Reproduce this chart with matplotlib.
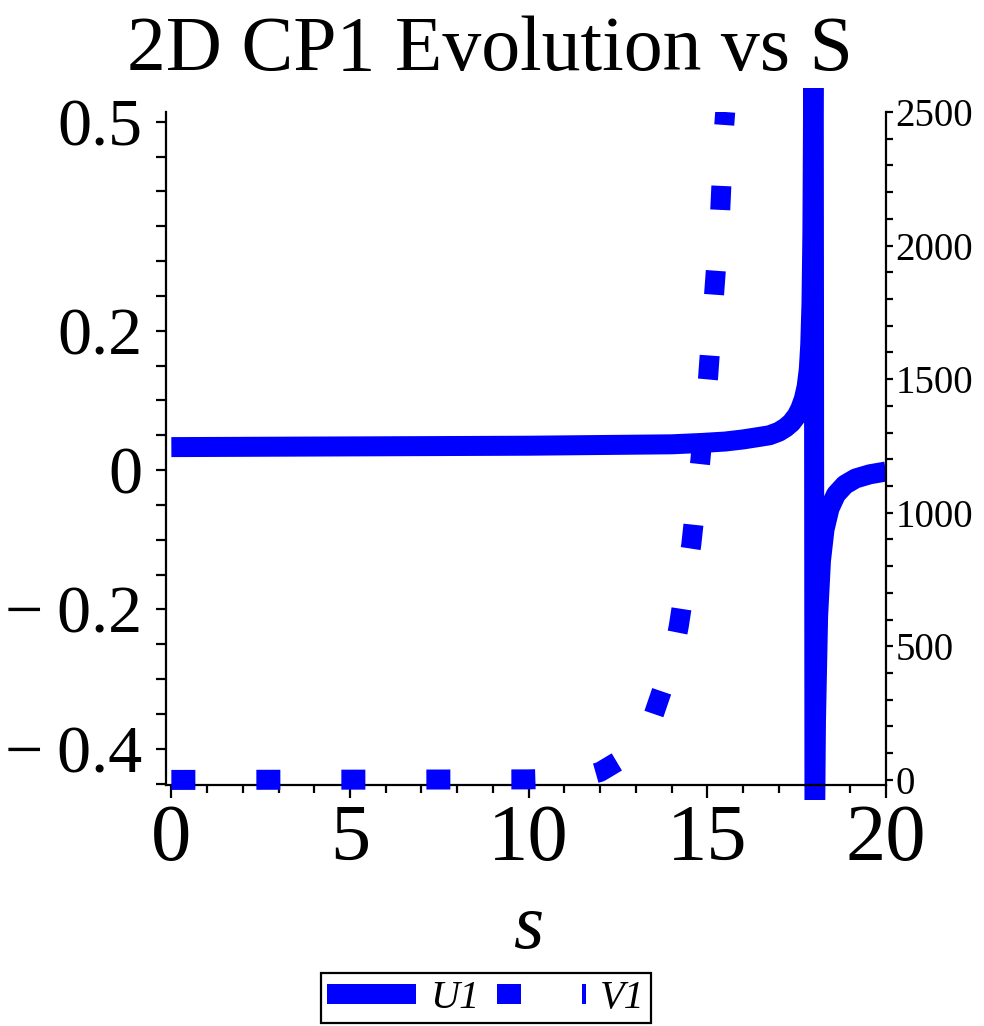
import matplotlib
matplotlib.use("agg")
import matplotlib.pyplot as plt
from matplotlib.patches import Rectangle
from matplotlib.ticker import FixedLocator, FixedFormatter

plt.rcParams["font.family"] = ["Liberation Serif", "DejaVu Serif"]

# U1 on the left axis
u1_s = [0, 5, 10, 12, 14, 14.86, 15.5, 16.0, 16.5, 16.74, 17.0, 17.19, 17.35, 17.5,
        17.6, 17.7, 17.78, 17.84, 17.88, 17.915, 17.94, 17.955, 17.975, 18.0, 18.04,
        18.1, 18.18, 18.28, 18.42, 18.6, 18.85, 19.15, 19.55, 20.0]
u1_v = [0.033, 0.034, 0.035, 0.036, 0.037, 0.039, 0.041, 0.044, 0.048, 0.050, 0.055,
        0.061, 0.068, 0.078, 0.088, 0.102, 0.12, 0.145, 0.18, 0.24, 0.34, 0.48, 0.75,
        -0.60, -0.36, -0.21, -0.13, -0.085, -0.055, -0.035, -0.021, -0.012, -0.006,
        -0.002]

# V1 on the right axis
v1_s = [0, 10, 11, 11.5, 12, 12.5, 13, 13.5, 14, 14.2, 14.55, 14.8, 15.02, 15.19,
        15.36, 15.47, 15.5]
v1_v = [0, 2, 6, 11, 30, 70, 140, 245, 440, 575, 880, 1190, 1505, 1820, 2130, 2445,
        2500]

left_ticks = [-0.4, -0.2, 0, 0.2, 0.5]
left_labels = ["\u2212\u20090.4", "\u2212\u20090.2", "0", "0.2", "0.5"]
right_ticks = [0, 500, 1000, 1500, 2000, 2500]
x_ticks = [0, 5, 10, 15, 20]

blue = "#0000ff"
W, H = 984, 1026

fig = plt.figure(figsize=(W / 100, H / 100), dpi=100)
ax = fig.add_axes([166 / W, 1 - 785 / H, 720 / W, 673 / H])
ax2 = ax.twinx()

ax.set_xlim(-0.15, 20)
ax.set_ylim(-0.452, 0.514)
ax2.set_ylim(-19, 2500)

clip_u = Rectangle((0, -0.022), 1, 1.058, transform=ax.transAxes, visible=False)
clip_v = Rectangle((0, -0.03), 1, 1.03, transform=ax2.transAxes, visible=False)
ax.add_patch(clip_u)
ax2.add_patch(clip_v)

lu, = ax.plot(u1_s, u1_v, color=blue, lw=14.4, solid_capstyle="butt",
              solid_joinstyle="round", label="U1")
lu.set_clip_path(clip_u)
lv, = ax2.plot(v1_s, v1_v, color=blue, lw=14.4, dashes=(1.2, 3.05),
               dash_capstyle="butt", label="V1")
lv.set_clip_path(clip_v)

for a in (ax, ax2):
    a.spines["top"].set_visible(False)
ax.spines["right"].set_visible(False)
ax2.spines["left"].set_visible(False)
ax2.spines["bottom"].set_visible(False)
for sp in ("left", "bottom"):
    ax.spines[sp].set_linewidth(1.6)
ax2.spines["right"].set_linewidth(1.6)

ax.yaxis.set_major_locator(FixedLocator(left_ticks))
ax.yaxis.set_major_formatter(FixedFormatter(left_labels))
ax.yaxis.set_minor_locator(FixedLocator([i * 0.05 for i in range(-9, 11)]))
ax.tick_params(axis="y", which="both", direction="out", length=7, width=1.6,
               labelsize=49, pad=10)

ax.xaxis.set_major_locator(FixedLocator(x_ticks))
ax.xaxis.set_minor_locator(FixedLocator(list(range(0, 21))))
ax.tick_params(axis="x", which="major", direction="out", length=9.5, width=1.6,
               labelsize=58, pad=4)
ax.tick_params(axis="x", which="minor", direction="out", length=6, width=1.6)

ax2.yaxis.set_major_locator(FixedLocator(right_ticks))
ax2.yaxis.set_minor_locator(FixedLocator(list(range(0, 2501, 100))))
ax2.tick_params(axis="y", which="both", direction="out", length=5, width=1.6,
                labelsize=28, pad=2)

fig.text(490 / W, 1 - 70 / H, "2D CP1 Evolution vs S", ha="center", va="baseline",
         fontsize=56)
fig.text(528 / W, 1 - 948 / H, "s", ha="center", va="baseline", fontsize=56,
         style="italic")

leg = fig.legend(handles=[lu, lv], loc="center", bbox_to_anchor=(486 / W, 1 - 998 / H),
                 ncol=2, handlelength=2.2, handletextpad=0.35,
                 columnspacing=0.45, borderpad=0.15, fancybox=False, framealpha=1,
                 edgecolor="black", prop={"style": "italic", "size": 29})
leg.get_frame().set_linewidth(1.6)

fig.savefig("out.png", dpi=100)
